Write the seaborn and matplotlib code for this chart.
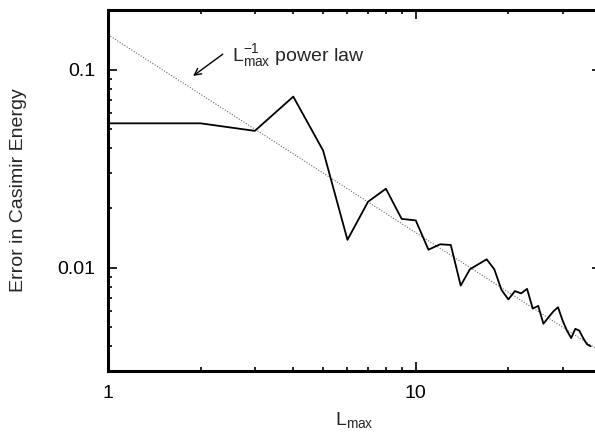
import matplotlib
matplotlib.use("Agg")
import numpy as np
import pandas as pd
import seaborn as sns
import matplotlib.pyplot as plt
from matplotlib.ticker import FixedLocator, NullFormatter

# ---- data ----
L_max = list(range(1, 38))
error = [0.0535, 0.0535, 0.049, 0.073, 0.039, 0.0138, 0.0215, 0.025, 0.0176, 0.0173,
         0.0123, 0.0131, 0.0130, 0.0081, 0.0098, 0.0104, 0.0110, 0.0098, 0.0077, 0.0069,
         0.0076, 0.0074, 0.0078, 0.0062, 0.0064, 0.0052, 0.0056, 0.0060, 0.0063, 0.0054,
         0.0048, 0.0044, 0.0049, 0.0048, 0.0044, 0.0041, 0.0040]
power_law_coef = 0.15
power_law_x = np.array([1.0, 40.0])
power_law_y = power_law_coef / power_law_x

x_major = [1, 10]
x_major_labels = ["1", "10"]
x_minor = [2, 3, 4, 5, 6, 7, 8, 9, 20, 30]
y_major = [0.01, 0.1]
y_major_labels = ["0.01", "0.1"]
y_minor = [0.003, 0.004, 0.005, 0.006, 0.007, 0.008, 0.009,
           0.02, 0.03, 0.04, 0.05, 0.06, 0.07, 0.08, 0.09, 0.2]

df = pd.DataFrame({"L": L_max, "err": error})
pl = pd.DataFrame({"L": power_law_x, "err": power_law_y})

sns.set_style("ticks")
plt.rcParams["font.family"] = ["Liberation Sans", "DejaVu Sans"]
plt.rcParams["mathtext.default"] = "regular"

FS = 14

fig = plt.figure(figsize=(5.95, 4.32), dpi=100)
ax = fig.add_axes([0.1815, 0.1412, 0.8286, 0.8357])
ax.set_xscale("log")
ax.set_yscale("log")

sns.lineplot(data=pl, x="L", y="err", ax=ax, color="0.4", lw=0.8,
             linestyle=(0, (1, 1.5)), estimator=None)
sns.lineplot(data=df, x="L", y="err", ax=ax, color="black", lw=1.3, estimator=None)

ax.set_xlim(1, 40)
ax.set_ylim(0.003, 0.2)

ax.xaxis.set_major_locator(FixedLocator(x_major))
ax.xaxis.set_minor_locator(FixedLocator(x_minor))
ax.set_xticklabels(x_major_labels)
ax.xaxis.set_minor_formatter(NullFormatter())
ax.yaxis.set_major_locator(FixedLocator(y_major))
ax.yaxis.set_minor_locator(FixedLocator(y_minor))
ax.set_yticklabels(y_major_labels)
ax.yaxis.set_minor_formatter(NullFormatter())

ax.tick_params(which="both", direction="in", top=True, right=True, width=1.2,
               labelsize=FS, colors="black")
ax.tick_params(which="major", length=6.5)
ax.tick_params(which="minor", length=3)
ax.tick_params(axis="x", which="major", pad=10)
ax.tick_params(axis="y", which="major", pad=9)

for s in ax.spines.values():
    s.set_linewidth(2.2)
    s.set_color("black")

ax.set_xlabel("L$_{max}$", fontsize=FS, labelpad=6)
ax.set_ylabel("Error in Casimir Energy", fontsize=FS, labelpad=22)

ax.annotate("", xy=(1.89, 0.0928), xytext=(2.36, 0.1196),
            arrowprops=dict(arrowstyle="->", lw=1.0, color="black",
                            shrinkA=0, shrinkB=0, mutation_scale=12))
ax.text(2.52, 0.1104, "L$^{-1}_{max}$ power law", fontsize=FS,
        ha="left", va="baseline")

fig.savefig("out.png", dpi=100)
